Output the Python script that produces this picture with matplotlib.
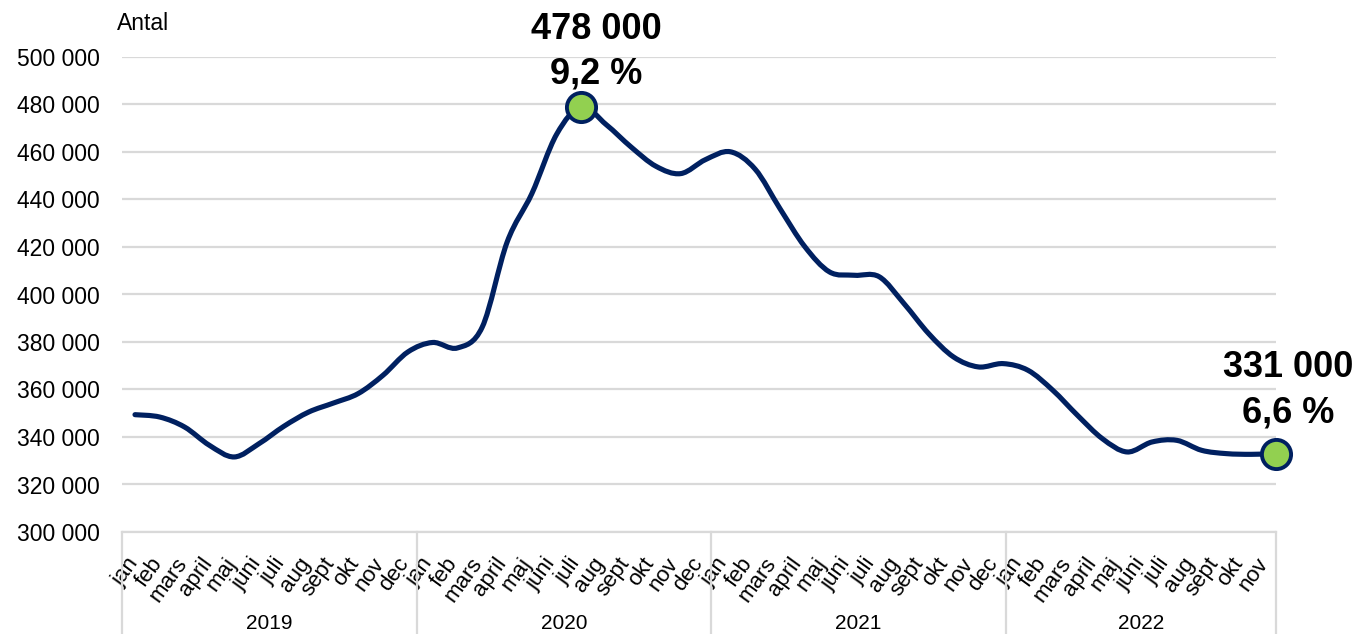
import matplotlib
matplotlib.use("Agg")
import matplotlib.pyplot as plt
import matplotlib.transforms as mtransforms
from matplotlib.path import Path
from matplotlib.patches import PathPatch
import numpy as np

plt.rcParams["font.family"] = ["Liberation Sans", "DejaVu Sans"]

MONTHS_FULL = ["jan", "feb", "mars", "april", "maj", "juni", "juli", "aug",
               "sept", "okt", "nov", "dec"]
YEARS = ["2019", "2020", "2021", "2022"]
MONTHS_PER_YEAR = [12, 12, 12, 11]
# antal arbetslösa per månad (tusental)
ANTAL = [349.4, 348.4, 344.2, 336.5, 331.6, 337.2, 344.5, 350.5, 354.3, 358.3, 366.0, 375.8,
         379.8, 377.5, 386.3, 422.0, 442.5, 467.5, 479.0, 471.5, 462.1, 454.0, 450.9, 456.8,
         460.1, 452.8, 436.2, 420.2, 409.5, 408.1, 407.5, 396.2, 383.5, 373.7, 369.5, 370.9,
         368.1, 359.7, 349.1, 339.3, 333.7, 337.9, 338.6, 334.4, 333.0, 332.7, 333.0]
ANTAL = [v * 1000 for v in ANTAL]
HIGHLIGHT = [18, 46]
HL_TEXT = [("478 000", "9,2 %"), ("331 000", "6,6 %")]

NAVY = "#002060"
GREEN = "#92d050"
GRID = "#d9d9d9"

months = [m for n in MONTHS_PER_YEAR for m in MONTHS_FULL[:n]]
x = np.arange(len(ANTAL))
y = np.array(ANTAL, dtype=float)


def smooth_path(x, y):
    """Excel-liknande utjämnad linje: Catmull-Rom som Bezier-segment."""
    pts = np.column_stack([x, y])
    ext = np.vstack([pts[0], pts, pts[-1]])
    verts = [pts[0]]
    codes = [Path.MOVETO]
    for i in range(len(pts) - 1):
        p0, p1, p2, p3 = ext[i], ext[i + 1], ext[i + 2], ext[i + 3]
        verts += [p1 + (p2 - p0) / 6, p2 - (p3 - p1) / 6, p2]
        codes += [Path.CURVE4] * 3
    return Path(verts, codes)


fig = plt.figure(figsize=(13.58, 6.34), dpi=100)
ax = fig.add_axes([122 / 1358, 1 - 532 / 634, 1154 / 1358, 475 / 634])

xmin, xmax = -0.524, 46.0
ax.set_xlim(xmin, xmax)
ax.set_ylim(300000, 500000)

ax.add_patch(PathPatch(smooth_path(x, y), facecolor="none", edgecolor=NAVY,
                       lw=3.7, capstyle="round", zorder=3))
ax.plot(x[HIGHLIGHT], y[HIGHLIGHT], "o", ms=21, mfc=GREEN, mec=NAVY, mew=2.8,
        zorder=4, clip_on=False)

offsets = [(15, 68, 23), (12, 77, 31)]
for idx, (t1, t2), (dx, dy1, dy2) in zip(HIGHLIGHT, HL_TEXT, offsets):
    ax.annotate(t1, (x[idx], y[idx]), xytext=(dx, dy1), textcoords="offset pixels",
                ha="center", va="baseline", fontsize=26, fontweight="bold")
    ax.annotate(t2, (x[idx], y[idx]), xytext=(dx, dy2), textcoords="offset pixels",
                ha="center", va="baseline", fontsize=26, fontweight="bold")

yt = np.arange(300000, 500001, 20000)
ax.set_yticks(yt)
ax.set_yticklabels([f"{v:,}".replace(",", " ") for v in yt], fontsize=16.5)
ax.yaxis.grid(True, color=GRID, lw=1.6)
ax.set_axisbelow(True)
ax.tick_params(axis="y", length=0, pad=16)

for s in ["top", "left", "right"]:
    ax.spines[s].set_visible(False)
ax.spines["bottom"].set_color(GRID)
ax.spines["bottom"].set_linewidth(1.6)

cat_w = (xmax - xmin) / len(months)
centers = xmin + cat_w * (np.arange(len(months)) + 0.5)
ax.set_xticks(centers)
ax.set_xticklabels(months, rotation=54, rotation_mode="anchor", ha="right",
                   va="center", fontsize=16)
ax.tick_params(axis="x", length=0, pad=20)

trans = mtransforms.blended_transform_factory(ax.transData, ax.transAxes)
bounds = xmin + cat_w * np.concatenate([[0], np.cumsum(MONTHS_PER_YEAR)])
for b in bounds:
    ax.plot([b, b], [0, -0.22], color=GRID, lw=1.6, transform=trans, clip_on=False)
for k, yr in enumerate(YEARS):
    ax.text((bounds[k] + bounds[k + 1]) / 2, -0.192, yr, transform=trans,
            ha="center", va="center", fontsize=15)

fig.text(117 / 1358, 1 - 24 / 634, "Antal", fontsize=16.5, va="center", ha="left")

fig.savefig("out.png", dpi=100)
